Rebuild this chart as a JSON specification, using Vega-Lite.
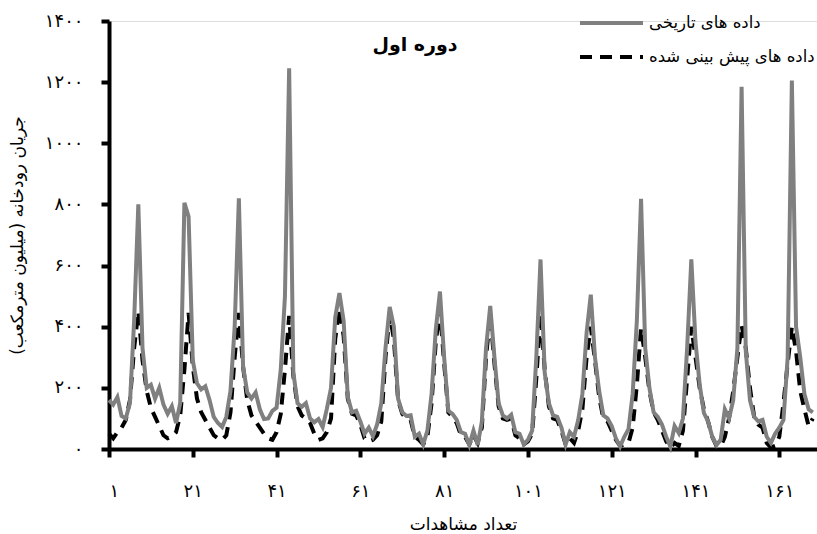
{
  "$schema": "https://vega.github.io/schema/vega-lite/v6.json",
  "width": 708,
  "height": 428,
  "autosize": {"type": "none"},
  "padding": {"left": 109, "top": 21, "right": 0, "bottom": 85},
  "title": {
    "text": "دوره اول",
    "frame": "group",
    "anchor": "middle",
    "dx": -48,
    "dy": 69,
    "font": "DejaVu Sans",
    "fontSize": 19,
    "fontWeight": "bold",
    "color": "black"
  },
  "config": {
    "axis": {
      "grid": false,
      "domain": true,
      "domainColor": "black",
      "domainWidth": 4,
      "ticks": true,
      "tickColor": "black",
      "tickWidth": 4,
      "tickSize": 8,
      "labelFont": "DejaVu Sans",
      "labelFontSize": 18,
      "labelColor": "black",
      "titleFont": "DejaVu Sans",
      "titleFontSize": 17,
      "titleFontWeight": "normal",
      "titleColor": "black"
    },
    "legend": {
      "labelFont": "DejaVu Sans",
      "labelFontSize": 16.5,
      "labelColor": "black",
      "labelLimit": 400
    }
  },
  "data": {
    "values": [
      {"t": 1, "h": 160, "p": 50}, {"t": 2, "h": 145, "p": 35}, {"t": 3, "h": 170, "p": 55}, {"t": 4, "h": 108, "p": 70},
      {"t": 5, "h": 100, "p": 95}, {"t": 6, "h": 150, "p": 160}, {"t": 7, "h": 420, "p": 330}, {"t": 8, "h": 800, "p": 450},
      {"t": 9, "h": 330, "p": 290}, {"t": 10, "h": 200, "p": 190}, {"t": 11, "h": 210, "p": 135}, {"t": 12, "h": 165, "p": 105},
      {"t": 13, "h": 200, "p": 75}, {"t": 14, "h": 145, "p": 45}, {"t": 15, "h": 115, "p": 35}, {"t": 16, "h": 140, "p": 40},
      {"t": 17, "h": 85, "p": 55}, {"t": 18, "h": 150, "p": 110}, {"t": 19, "h": 805, "p": 260}, {"t": 20, "h": 760, "p": 445},
      {"t": 21, "h": 290, "p": 270}, {"t": 22, "h": 215, "p": 165}, {"t": 23, "h": 195, "p": 120}, {"t": 24, "h": 205, "p": 95},
      {"t": 25, "h": 160, "p": 70}, {"t": 26, "h": 105, "p": 45}, {"t": 27, "h": 85, "p": 35}, {"t": 28, "h": 72, "p": 30},
      {"t": 29, "h": 105, "p": 45}, {"t": 30, "h": 190, "p": 120}, {"t": 31, "h": 400, "p": 300}, {"t": 32, "h": 820, "p": 445},
      {"t": 33, "h": 270, "p": 270}, {"t": 34, "h": 185, "p": 160}, {"t": 35, "h": 165, "p": 110}, {"t": 36, "h": 185, "p": 90},
      {"t": 37, "h": 130, "p": 70}, {"t": 38, "h": 98, "p": 50}, {"t": 39, "h": 100, "p": 35}, {"t": 40, "h": 125, "p": 30},
      {"t": 41, "h": 135, "p": 55}, {"t": 42, "h": 260, "p": 115}, {"t": 43, "h": 500, "p": 260}, {"t": 44, "h": 1245, "p": 435},
      {"t": 45, "h": 250, "p": 240}, {"t": 46, "h": 150, "p": 140}, {"t": 47, "h": 138, "p": 110}, {"t": 48, "h": 150, "p": 100},
      {"t": 49, "h": 100, "p": 85}, {"t": 50, "h": 87, "p": 50}, {"t": 51, "h": 98, "p": 30}, {"t": 52, "h": 72, "p": 35},
      {"t": 53, "h": 131, "p": 55}, {"t": 54, "h": 200, "p": 100}, {"t": 55, "h": 430, "p": 360}, {"t": 56, "h": 510, "p": 460},
      {"t": 57, "h": 420, "p": 370}, {"t": 58, "h": 170, "p": 165}, {"t": 59, "h": 120, "p": 115}, {"t": 60, "h": 125, "p": 110},
      {"t": 61, "h": 90, "p": 80}, {"t": 62, "h": 50, "p": 35}, {"t": 63, "h": 70, "p": 25}, {"t": 64, "h": 42, "p": 30},
      {"t": 65, "h": 80, "p": 45}, {"t": 66, "h": 150, "p": 90}, {"t": 67, "h": 330, "p": 300}, {"t": 68, "h": 465, "p": 440},
      {"t": 69, "h": 400, "p": 360}, {"t": 70, "h": 165, "p": 160}, {"t": 71, "h": 120, "p": 115}, {"t": 72, "h": 108, "p": 100},
      {"t": 73, "h": 110, "p": 95}, {"t": 74, "h": 40, "p": 40}, {"t": 75, "h": 50, "p": 30}, {"t": 76, "h": 15, "p": 15},
      {"t": 77, "h": 60, "p": 40}, {"t": 78, "h": 180, "p": 150}, {"t": 79, "h": 390, "p": 350}, {"t": 80, "h": 515, "p": 455},
      {"t": 81, "h": 300, "p": 280}, {"t": 82, "h": 125, "p": 120}, {"t": 83, "h": 115, "p": 105}, {"t": 84, "h": 95, "p": 85},
      {"t": 85, "h": 55, "p": 45}, {"t": 86, "h": 50, "p": 40}, {"t": 87, "h": 13, "p": 15}, {"t": 88, "h": 60, "p": 45},
      {"t": 89, "h": 13, "p": 20}, {"t": 90, "h": 90, "p": 70}, {"t": 91, "h": 330, "p": 300}, {"t": 92, "h": 468, "p": 440},
      {"t": 93, "h": 300, "p": 280}, {"t": 94, "h": 150, "p": 140}, {"t": 95, "h": 110, "p": 100}, {"t": 96, "h": 100, "p": 95},
      {"t": 97, "h": 112, "p": 100}, {"t": 98, "h": 55, "p": 45}, {"t": 99, "h": 50, "p": 35}, {"t": 100, "h": 15, "p": 15},
      {"t": 101, "h": 30, "p": 25}, {"t": 102, "h": 60, "p": 50}, {"t": 103, "h": 300, "p": 230}, {"t": 104, "h": 620, "p": 445},
      {"t": 105, "h": 250, "p": 260}, {"t": 106, "h": 150, "p": 140}, {"t": 107, "h": 110, "p": 100}, {"t": 108, "h": 105, "p": 95},
      {"t": 109, "h": 70, "p": 60}, {"t": 110, "h": 15, "p": 15}, {"t": 111, "h": 55, "p": 35}, {"t": 112, "h": 40, "p": 20},
      {"t": 113, "h": 95, "p": 60}, {"t": 114, "h": 180, "p": 130}, {"t": 115, "h": 380, "p": 300}, {"t": 116, "h": 505, "p": 400},
      {"t": 117, "h": 300, "p": 290}, {"t": 118, "h": 190, "p": 170}, {"t": 119, "h": 110, "p": 100}, {"t": 120, "h": 100, "p": 90},
      {"t": 121, "h": 75, "p": 60}, {"t": 122, "h": 35, "p": 30}, {"t": 123, "h": 8, "p": 10}, {"t": 124, "h": 40, "p": 15},
      {"t": 125, "h": 65, "p": 20}, {"t": 126, "h": 180, "p": 70}, {"t": 127, "h": 420, "p": 210}, {"t": 128, "h": 818, "p": 395},
      {"t": 129, "h": 330, "p": 300}, {"t": 130, "h": 200, "p": 190}, {"t": 131, "h": 120, "p": 120}, {"t": 132, "h": 105, "p": 95},
      {"t": 133, "h": 80, "p": 60}, {"t": 134, "h": 40, "p": 25}, {"t": 135, "h": 8, "p": 5}, {"t": 136, "h": 75, "p": 20},
      {"t": 137, "h": 52, "p": 10}, {"t": 138, "h": 100, "p": 60}, {"t": 139, "h": 330, "p": 230}, {"t": 140, "h": 620, "p": 400},
      {"t": 141, "h": 350, "p": 300}, {"t": 142, "h": 210, "p": 200}, {"t": 143, "h": 118, "p": 130}, {"t": 144, "h": 90, "p": 90},
      {"t": 145, "h": 40, "p": 40}, {"t": 146, "h": 13, "p": 10}, {"t": 147, "h": 30, "p": 8}, {"t": 148, "h": 130, "p": 40},
      {"t": 149, "h": 100, "p": 100}, {"t": 150, "h": 160, "p": 190}, {"t": 151, "h": 330, "p": 300}, {"t": 152, "h": 1185, "p": 405},
      {"t": 153, "h": 320, "p": 330}, {"t": 154, "h": 160, "p": 200}, {"t": 155, "h": 105, "p": 105}, {"t": 156, "h": 90, "p": 80},
      {"t": 157, "h": 95, "p": 70}, {"t": 158, "h": 40, "p": 20}, {"t": 159, "h": 20, "p": 5}, {"t": 160, "h": 50, "p": 10},
      {"t": 161, "h": 70, "p": 40}, {"t": 162, "h": 95, "p": 150}, {"t": 163, "h": 300, "p": 280}, {"t": 164, "h": 1205, "p": 400},
      {"t": 165, "h": 400, "p": 320}, {"t": 166, "h": 300, "p": 190}, {"t": 167, "h": 180, "p": 130}, {"t": 168, "h": 130, "p": 75},
      {"t": 169, "h": 120, "p": 100}
    ]
  },
  "layer": [
    {
      "transform": [{"fold": ["p"], "as": ["s", "v"]}],
      "mark": {"type": "line", "strokeWidth": 4, "color": "black", "clip": false},
      "encoding": {
        "x": {
          "field": "t",
          "type": "quantitative",
          "scale": {"domain": [1, 170], "nice": false, "zero": false},
          "axis": {
            "title": "تعداد مشاهدات",
            "values": [1, 21, 41, 61, 81, 101, 121, 141, 161],
            "labelExpr": "replace(replace(replace(replace(replace(replace(replace(replace(replace(replace(datum.label,/0/g,'۰'),/1/g,'۱'),/2/g,'۲'),/3/g,'۳'),/4/g,'۴'),/5/g,'۵'),/6/g,'۶'),/7/g,'۷'),/8/g,'۸'),/9/g,'۹')",
            "format": "d",
            "labelPadding": 25,
            "titlePadding": 16
          }
        },
        "y": {
          "field": "v",
          "type": "quantitative",
          "scale": {"domain": [0, 1400], "nice": false},
          "axis": {
            "title": "جریان رودخانه (میلیون مترمکعب)",
            "values": [0, 200, 400, 600, 800, 1000, 1200, 1400],
            "labelExpr": "replace(replace(replace(replace(replace(replace(replace(replace(replace(replace(datum.label,/0/g,'۰'),/1/g,'۱'),/2/g,'۲'),/3/g,'۳'),/4/g,'۴'),/5/g,'۵'),/6/g,'۶'),/7/g,'۷'),/8/g,'۸'),/9/g,'۹')",
            "format": "d",
            "labelPadding": 18,
            "titlePadding": 18
          }
        },
        "strokeDash": {
          "field": "s",
          "type": "nominal",
          "scale": {"domain": ["p"], "range": [[12, 8]]},
          "legend": {
            "title": null,
            "orient": "none",
            "legendX": 469,
            "legendY": 2.5,
            "symbolSize": 3969,
            "symbolStrokeWidth": 4,
            "symbolStrokeColor": "black",
            "labelOffset": 4,
            "labelExpr": "'داده های پیش بینی شده'"
          }
        }
      }
    },
    {
      "transform": [{"fold": ["h"], "as": ["s", "v"]}],
      "mark": {"type": "line", "strokeWidth": 4, "clip": false},
      "encoding": {
        "x": {"field": "t", "type": "quantitative"},
        "y": {"field": "v", "type": "quantitative"},
        "color": {
          "field": "s",
          "type": "nominal",
          "scale": {"domain": ["h"], "range": ["#808080"]},
          "legend": {
            "title": null,
            "orient": "none",
            "legendX": 469,
            "legendY": -31.5,
            "symbolSize": 3969,
            "symbolStrokeWidth": 4,
            "labelOffset": 4,
            "labelExpr": "'داده های تاریخی'"
          }
        }
      }
    }
  ]
}
